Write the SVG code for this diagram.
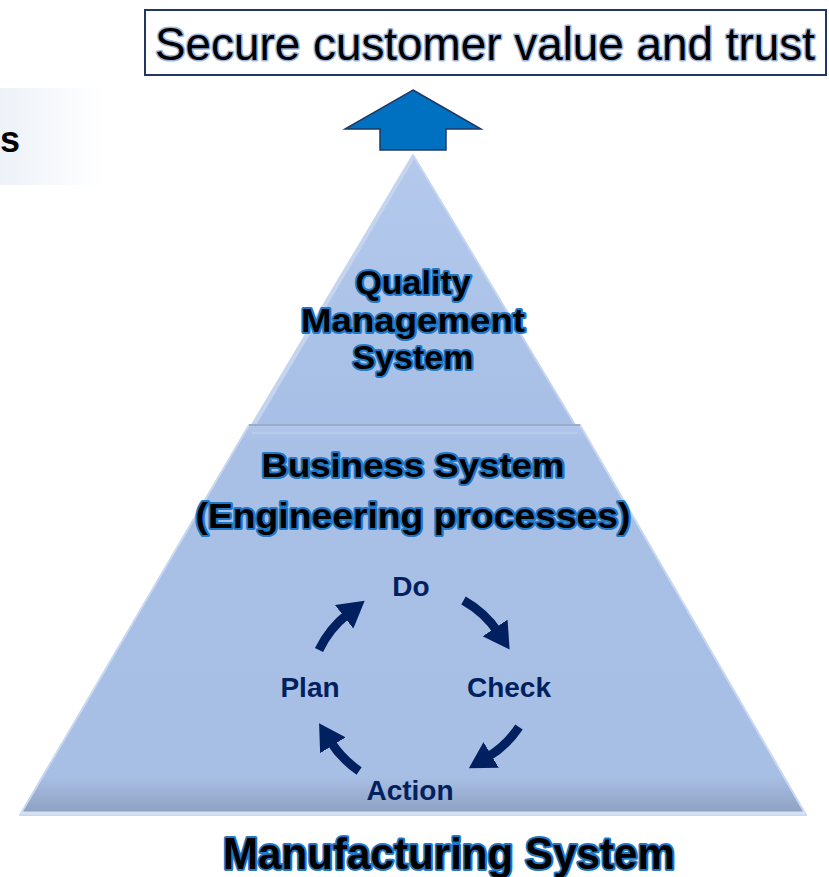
<svg xmlns="http://www.w3.org/2000/svg" width="829" height="877" viewBox="0 0 829 877">
<style>
.hdr{font-family:"Liberation Sans",Arial,sans-serif;font-size:46px;fill:#000;stroke:#9db6dc;stroke-width:3;paint-order:stroke;stroke-linejoin:round}
.big{font-family:"Liberation Sans",Arial,sans-serif;font-weight:bold;fill:#000;stroke:#1f78c8;stroke-width:4;paint-order:stroke;stroke-linejoin:round;text-anchor:middle}
.pd{font-family:"Liberation Sans",Arial,sans-serif;font-weight:bold;font-size:28px;fill:#002060;text-anchor:middle}
.arc{fill:none;stroke:#002060;stroke-width:9}
</style>
<defs>
<linearGradient id="sbox" x1="0" y1="0" x2="1" y2="0">
<stop offset="0" stop-color="#edf2f9"/><stop offset="1" stop-color="#ffffff"/>
</linearGradient>
<linearGradient id="topg" x1="0" y1="0" x2="0" y2="1">
<stop offset="0" stop-color="#b4c9ec"/><stop offset="1" stop-color="#a7bfe6"/>
</linearGradient>
<linearGradient id="botg" x1="0" y1="0" x2="0" y2="1">
<stop offset="0" stop-color="#b2c7ea"/><stop offset="0.04" stop-color="#a9c0e6"/><stop offset="0.9" stop-color="#a8bfe5"/><stop offset="1" stop-color="#8d9fbf"/>
</linearGradient>
<marker id="ah" markerUnits="userSpaceOnUse" markerWidth="28" markerHeight="30" refX="5" refY="15" orient="auto">
<path d="M0,0 L26,15 L0,30 Z" fill="#002060"/>
</marker>
</defs>

<g id="side-label">
<rect x="0" y="88" width="105" height="97" fill="url(#sbox)"/>
<text x="0" y="152" font-family="Liberation Sans, Arial, sans-serif" font-weight="bold" font-size="36" fill="#000">s</text>
</g>

<g id="goal">
<rect x="145" y="10" width="681" height="65" fill="#fff" stroke="#1f3864" stroke-width="2"/>
<text class="hdr" x="155" y="60" textLength="660" lengthAdjust="spacingAndGlyphs">Secure customer value and trust</text>
</g>

<g id="quality">
<path d="M413,155 L577,428 L250,428 Z" fill="url(#topg)" stroke="#c6d6ef" stroke-width="2" stroke-linejoin="round"/>
<path d="M413,158 L255,424" stroke="#c4d5f0" stroke-width="3" fill="none"/>
<text class="big" font-size="34" x="413" y="294">Quality</text>
<text class="big" font-size="34" x="413" y="332" textLength="224" lengthAdjust="spacingAndGlyphs">Management</text>
<text class="big" font-size="34" x="413" y="369">System</text>
</g>

<g id="business">
<path d="M249,425 L580,425 L806,815 L20,815 Z" fill="url(#botg)" stroke="#c8d8f0" stroke-width="2" stroke-linejoin="round"/>
<path d="M249,425 L580,425" stroke="#9aaccb" stroke-width="2"/>
<path d="M252,433 L577,433" stroke="#b9ccec" stroke-width="2"/>
<path d="M21,813 L805,813" stroke="#d6e2f4" stroke-width="3"/>
<text class="big" font-size="33" x="413" y="477" textLength="303" lengthAdjust="spacingAndGlyphs">Business System</text>
<text class="big" font-size="35" x="413" y="528" textLength="435" lengthAdjust="spacingAndGlyphs">(Engineering processes)</text>
</g>

<g id="pdca">
<text class="pd" x="411" y="596">Do</text>
<text class="pd" x="310" y="697">Plan</text>
<text class="pd" x="509" y="697">Check</text>
<text class="pd" x="410" y="800">Action</text>
</g>

<g id="manufacturing">
<text class="big" font-size="44" x="449" y="869" textLength="452" lengthAdjust="spacingAndGlyphs">Manufacturing System</text>
</g>

<g id="connectors">
<path id="up-arrow" d="M413,90 L481,129 L446,129 L446,150 L380,150 L380,129 L345,129 Z" fill="#0070c0" stroke="#1f3864" stroke-width="1.5" stroke-linejoin="miter"/>
<path class="arc" d="M463.5,600.5 A100,100 0 0 1 497.9,632.1" marker-end="url(#ah)"/>
<path class="arc" d="M519.0,727.0 A100,100 0 0 1 486.9,757.5" marker-end="url(#ah)"/>
<path class="arc" d="M359.1,770.9 A100,100 0 0 1 330.2,741.0" marker-end="url(#ah)"/>
<path class="arc" d="M319.0,650.0 A100,100 0 0 1 348.1,613.7" marker-end="url(#ah)"/>
</g>
</svg>
